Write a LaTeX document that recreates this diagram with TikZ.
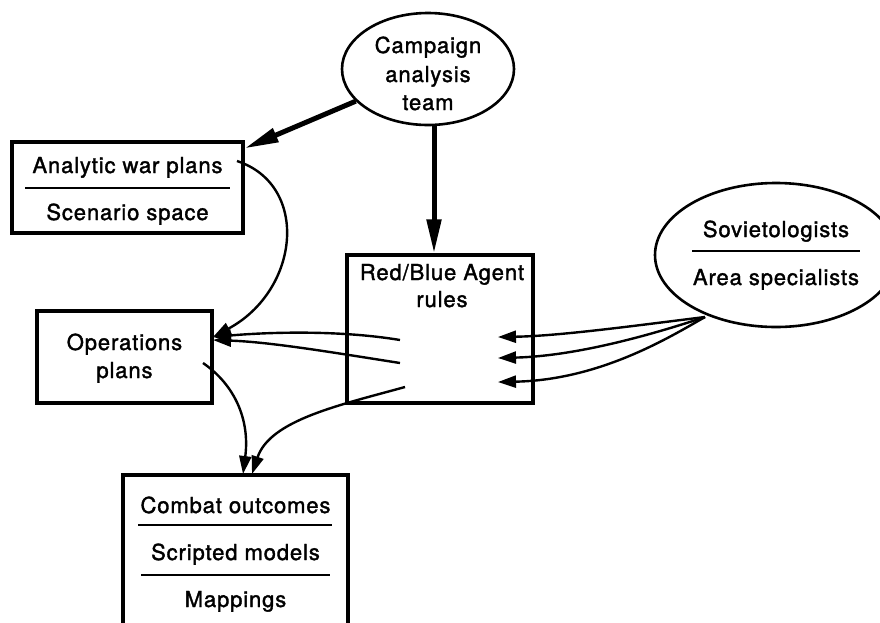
\documentclass[tikz,border=0pt]{standalone}
\usepackage{fontspec}
\setmainfont{TeX Gyre Heros}[LetterSpace=4, FakeBold=1.6]
\usetikzlibrary{arrows.meta,shapes.geometric,calc}

\tikzset{
  box/.style={draw, line width=3.2pt, rectangle, inner sep=0pt},
  oval/.style={draw, line width=2.6pt, ellipse, inner sep=0pt},
  lbl/.style={font=\fontsize{22}{29}\selectfont, inner sep=0pt, anchor=base},
  rulebar/.style={line width=2.2pt},
  heavy/.style={line width=5pt, -{Triangle[length=34pt,width=14pt]}},
  thin/.style={line width=2.4pt, -{Triangle[length=18pt,width=12pt]}},
}

\begin{document}
\begin{tikzpicture}[x=1pt,y=-1pt]
\useasboundingbox (0,0) rectangle (880,622);

% --- frames ---
\node[oval, minimum width=172pt, minimum height=112pt] (camp) at (428,69) {};
\node[box, minimum width=231pt, minimum height=91pt] (awp) at (127.5,187.5) {};
\node[box, minimum width=175pt, minimum height=92pt] (ops) at (124.5,357) {};
\node[box, minimum width=186pt, minimum height=148pt] (rb) at (440,329) {};
\node[oval, minimum width=242pt, minimum height=144pt] (sov) at (776,255) {};
\node[box, minimum width=225pt, minimum height=200pt] (cmb) at (235.5,575) {};

% --- texts ---
\node[lbl] (camp1) at (428,53) {Campaign};
\node[lbl] (camp2) at (428,82) {analysis};
\node[lbl] (camp3) at (428,110) {team};

\node[lbl] (awp1) at (127.5,173) {Analytic war plans};
\node[lbl] (awp2) at (127.5,220) {Scenario space};
\draw[rulebar] (25,188) -- (230,188);

\node[lbl] (ops1) at (124.5,350) {Operations};
\node[lbl] (ops2) at (124.5,378) {plans};

\node[lbl] (rb1) at (442,280) {Red/Blue Agent};
\node[lbl] (rb2) at (442,307) {rules};

\node[lbl] (sov1) at (776,237) {Sovietologists};
\node[lbl] (sov2) at (776,285) {Area specialists};
\draw[rulebar] (692,251) -- (860,251);

\node[lbl] (cmb1) at (235.5,513) {Combat outcomes};
\node[lbl] (cmb2) at (235.5,560) {Scripted models};
\node[lbl] (cmb3) at (235.5,607) {Mappings};
\draw[rulebar] (138,525) -- (332,525);
\draw[rulebar] (141,575) -- (330,575);

% --- connector ends ---
\coordinate (awpIn)  at ([yshift=-8pt]awp.north east);
\coordinate (rbTop)  at ([xshift=-6pt]rb.north);
\coordinate (campOut) at (camp.south -| rbTop);
\coordinate (awpOut) at (237,161);
\coordinate (opsIn)  at (213,337);
\coordinate (rbA)    at (400,340);
\coordinate (rbB)    at (400,363);
\coordinate (rbC)    at (405,387);
\coordinate (opsOut) at (203,363);
\coordinate (cmbInA) at (243,474);
\coordinate (cmbInB) at (252,474);
\coordinate (sovOut) at (705,317);
\coordinate (rbIn1)  at (498,337);
\coordinate (rbIn2)  at (498,358);
\coordinate (rbIn3)  at (498,382);

% --- heavy arrows from the analysis team ---
\draw[heavy] (camp.204) -- (awpIn);
\draw[heavy] (campOut) -- (rbTop);

% --- thin flows ---
\draw[thin] (awpOut) .. controls (310,185) and (300,290) .. (opsIn);
\draw[thin] (rbA) .. controls (340,330) and (270,332) .. (opsIn);
\draw[thin] (rbB) .. controls (330,352) and (270,342) .. ([yshift=-3pt]opsIn);
\draw[thin] (rbC) .. controls (340,405) and (270,420) .. (cmbInB);
\draw[thin] (opsOut) .. controls (235,385) and (250,420) .. (cmbInA);

\draw[thin] (sovOut) .. controls (640,325) and (560,336) .. (rbIn1);
\draw[thin] (sovOut) .. controls (660,332) and (580,356) .. (rbIn2);
\draw[thin] (sovOut) .. controls (670,337) and (600,380) .. (rbIn3);
\end{tikzpicture}
\end{document}
